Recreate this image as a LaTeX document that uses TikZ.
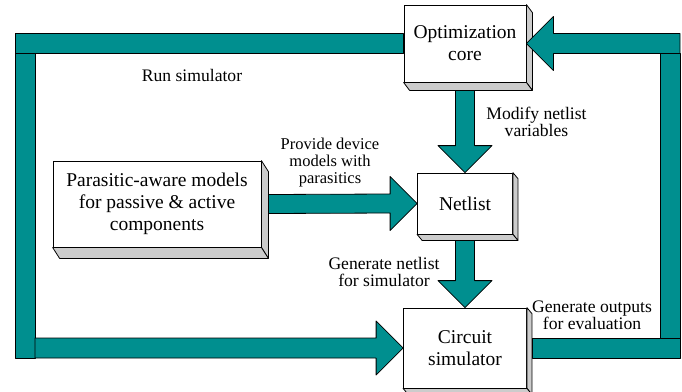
\documentclass[tikz,border=0pt]{standalone}
\usepackage{fontspec}
\setmainfont{Liberation Serif}
\definecolor{flowteal}{RGB}{0,143,143}

\begin{document}
\begin{tikzpicture}[x=1pt,y=-1pt,
		box/.style={draw,fill=white,line width=0.8pt,inner sep=0pt,align=center,font=\fontsize{19.5}{22}\selectfont},
		side/.style={draw,fill=gray!40,line width=0.8pt,line join=round},
		fat/.style={draw,fill=flowteal,line width=0.8pt,line join=round},
		lbl/.style={align=center,font=\fontsize{17.6}{17}\selectfont}]
	\useasboundingbox (0,0) rectangle (682,391);

	\node[box,minimum width=122,minimum height=77](opt) at (465,43.5){Optimization\\core};
	\node[box,minimum width=95,minimum height=61](net) at (465,203.5){Netlist};
	\node[box,minimum width=208,minimum height=86](par) at (157,204){Parasitic-aware models\\for passive \& active\\components};
	\node[box,minimum width=123,minimum height=80](sim) at (465,348){Circuit\\simulator};

	\foreach \b/\dx/\dy in {opt/6/8,net/5/6,par/7/11,sim/5/6}{
		\draw[side] (\b.north east) -- ++(\dx,\dy) -- ([shift={(\dx,\dy)}]\b.south east) -- (\b.south east) -- cycle;
		\draw[side] (\b.south west) -- ++(\dx,\dy) -- ([shift={(\dx,\dy)}]\b.south east) -- (\b.south east) -- cycle;
	}

	\coordinate (lt) at (25,43.5);
	\coordinate (lb) at (25,348);
	\coordinate (rt) at (670,43.5);
	\coordinate (rb) at (670,348);

	\draw[fat] ([shift={(-9.5,8)}]opt.south) -- ([shift={(-9.5,-27)}]net.north) -- ([shift={(-27,-27)}]net.north) -- (net.north)
		-- ([shift={(27,-27)}]net.north) -- ([shift={(9.5,-27)}]net.north) -- ([shift={(9.5,8)}]opt.south) -- cycle;
	\draw[fat] ([shift={(-9.5,6)}]net.south) -- ([shift={(-9.5,-27)}]sim.north) -- ([shift={(-27,-27)}]sim.north) -- (sim.north)
		-- ([shift={(27,-27)}]sim.north) -- ([shift={(9.5,-27)}]sim.north) -- ([shift={(9.5,6)}]net.south) -- cycle;
	\draw[fat] ([shift={(7,-9.5)}]par.east) -- ([shift={(-27,-9.5)}]net.west) -- ([shift={(-27,-27)}]net.west) -- (net.west)
		-- ([shift={(-27,27)}]net.west) -- ([shift={(-27,9.5)}]net.west) -- ([shift={(7,9.5)}]par.east) -- cycle;

	\draw[fat] ([shift={(0,-10)}]opt.west) -- ([shift={(-10,-10)}]lt) -- ([shift={(-10,10)}]lt) -- ([shift={(0,10)}]opt.west) -- cycle;
	\draw[fat] ([shift={(-10,10)}]lt) rectangle ([shift={(10,10)}]lb);
	\draw[fat] ([shift={(10,-10)}]lb) -- ([shift={(-27,-10)}]sim.west) -- ([shift={(-27,-27)}]sim.west) -- (sim.west)
		-- ([shift={(-27,27)}]sim.west) -- ([shift={(-27,10)}]sim.west) -- ([shift={(10,10)}]lb) -- cycle;

	\draw[fat] ([shift={(5,-10)}]sim.east) rectangle ([shift={(10,10)}]rb);
	\draw[fat] ([shift={(-10,10)}]rt) rectangle ([shift={(10,-10)}]rb);
	\draw[fat] ([shift={(10,-10)}]rt) -- ([shift={(27,-10)}]opt.east) -- ([shift={(27,-27)}]opt.east) -- (opt.east)
		-- ([shift={(27,27)}]opt.east) -- ([shift={(27,10)}]opt.east) -- ([shift={(10,10)}]rt) -- cycle;

	\node[lbl](run) at (192,75){Run simulator};
	\node[lbl](modify) at (536.5,122){Modify netlist\\variables};
	\node[lbl,font=\fontsize{16.5}{17}\selectfont](provide) at (330,163){Provide device\\models with\\parasitics};
	\node[lbl](gennet) at (384,272){Generate netlist\\for simulator};
	\node[lbl](genout) at (592,315){Generate outputs\\for evaluation};
\end{tikzpicture}
\end{document}
